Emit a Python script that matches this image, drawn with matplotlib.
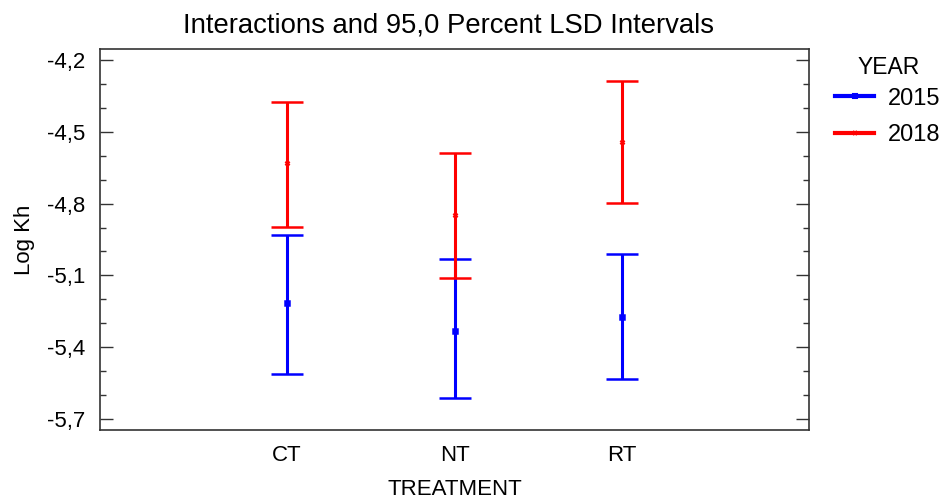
import numpy as np
import matplotlib
matplotlib.use("Agg")
import matplotlib.pyplot as plt
from matplotlib.lines import Line2D
from matplotlib.ticker import MultipleLocator, FuncFormatter

plt.rcParams["font.family"] = ["Liberation Sans", "DejaVu Sans"]

treatments = ["CT", "NT", "RT"]
years = ["2015", "2018"]

# means and 95% LSD interval limits of Log Kh
mean_2015 = [-5.217, -5.331, -5.273]
lower_2015 = [-5.511, -5.611, -5.534]
upper_2015 = [-4.933, -5.032, -5.009]

mean_2018 = [-4.632, -4.848, -4.541]
lower_2018 = [-4.898, -5.110, -4.799]
upper_2018 = [-4.377, -4.587, -4.288]

colors = {"2015": "#0000ff", "2018": "#ff0000"}

fig = plt.figure(figsize=(9.47, 5.01), dpi=100)
ax = fig.add_axes([0.1056, 0.1417, 0.7487, 0.7605])

x = np.arange(1, len(treatments) + 1)
series = [
    ("2015", mean_2015, lower_2015, upper_2015, "s"),
    ("2018", mean_2018, lower_2018, upper_2018, "x"),
]
for year, mean, lo, hi, mk in series:
    mean = np.array(mean)
    err = [mean - np.array(lo), np.array(hi) - mean]
    ax.errorbar(x, mean, yerr=err, fmt=mk, color=colors[year], ms=3.5, mew=1.8,
                elinewidth=2.2, capsize=11.5, capthick=2.2, zorder=3)

ax.set_xlim(-0.116, 4.116)
ax.set_ylim(-5.746, -4.154)
ax.set_xticks(x)
ax.set_xticklabels(treatments)
ax.yaxis.set_major_locator(MultipleLocator(0.3))
ax.yaxis.set_minor_locator(MultipleLocator(0.1))
ax.yaxis.set_major_formatter(FuncFormatter(lambda v, p: f"{v:.1f}".replace(".", ",")))

ax.tick_params(axis="y", which="both", direction="in", right=True, labelsize=16,
               pad=10.5, color="#333333")
ax.tick_params(axis="y", which="major", length=9.5, width=1)
ax.tick_params(axis="y", which="minor", length=4, width=1)
ax.tick_params(axis="x", length=0, labelsize=16, pad=11)

for s in ax.spines.values():
    s.set_color("#333333")
    s.set_linewidth(1.2)

fig.text(448.5 / 947, 1 - 25 / 501, "Interactions and 95,0 Percent LSD Intervals",
         fontsize=19.8, ha="center", va="center")
ax.set_xlabel("TREATMENT", fontsize=16, labelpad=9)
ax.set_ylabel("Log Kh", fontsize=16, labelpad=9)

# legend entries, with the YEAR heading placed as its own text
handles = [Line2D([], [], color=colors[y], lw=3, marker="s" if y == "2015" else "x",
                  ms=3, mew=1.5) for y in years]
leg = ax.legend(handles, years, loc="upper left",
                bbox_to_anchor=(1.017, 0.936), frameon=False, fontsize=17,
                handlelength=1.65, handletextpad=0.6,
                labelspacing=0.62, borderaxespad=0.2)
fig.text(889 / 947, 1 - 67 / 501, "YEAR", fontsize=16.5, ha="center", va="center")

fig.savefig("out.png", dpi=100)
